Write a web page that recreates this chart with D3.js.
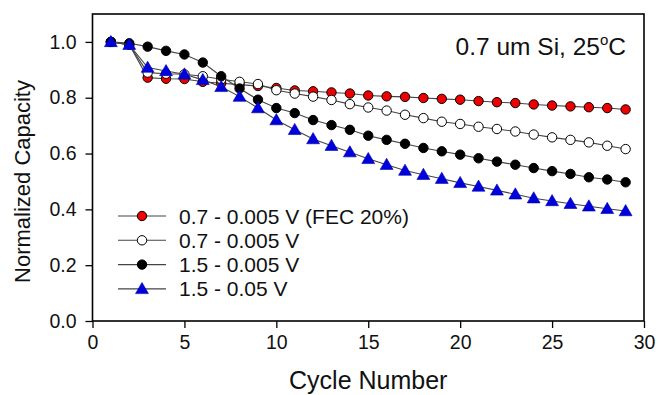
<!DOCTYPE html>
<html>
<head>
<meta charset="utf-8">
<script src="https://cdn.jsdelivr.net/npm/d3@7"></script>
<style>
    body { margin: 0; background: #fff; }
    svg { font-family: "Liberation Sans", Arial, sans-serif; }
</style>
</head>
<body>
<div id="viz-container"></div>
<script>
// data
let cycles = d3.range(1, 30);
let fec20 = [1.0, 0.99, 0.872, 0.868, 0.867, 0.857, 0.852, 0.847, 0.842, 0.835, 0.826, 0.823, 0.819, 0.815, 0.808, 0.805, 0.803, 0.799, 0.796, 0.793, 0.788, 0.784, 0.781, 0.776, 0.772, 0.769, 0.766, 0.763, 0.758];
let v07 = [1.0, 0.99, 0.89, 0.886, 0.884, 0.877, 0.866, 0.857, 0.849, 0.827, 0.815, 0.804, 0.792, 0.777, 0.765, 0.754, 0.739, 0.727, 0.714, 0.706, 0.696, 0.688, 0.679, 0.668, 0.658, 0.649, 0.64, 0.628, 0.616];
let v15 = [1.0, 0.995, 0.983, 0.968, 0.955, 0.926, 0.877, 0.833, 0.793, 0.763, 0.745, 0.72, 0.702, 0.685, 0.664, 0.649, 0.635, 0.62, 0.608, 0.596, 0.583, 0.571, 0.56, 0.548, 0.537, 0.527, 0.515, 0.507, 0.497];
let v15b = [1.0, 0.99, 0.908, 0.896, 0.884, 0.864, 0.839, 0.804, 0.763, 0.72, 0.685, 0.652, 0.628, 0.605, 0.581, 0.56, 0.539, 0.524, 0.51, 0.495, 0.482, 0.468, 0.454, 0.44, 0.43, 0.42, 0.411, 0.402, 0.394];
let seriesNames = ["0.7 - 0.005 V (FEC 20%)", "0.7 - 0.005 V", "1.5 - 0.005 V", "1.5 - 0.05 V"];
let xTicks = [0, 5, 10, 15, 20, 25, 30];
let yTicks = [0.0, 0.2, 0.4, 0.6, 0.8, 1.0];

let series = [
    { name: seriesNames[0], values: fec20, fill: '#ee0000', shape: 'circle' },
    { name: seriesNames[1], values: v07, fill: '#ffffff', shape: 'circle' },
    { name: seriesNames[2], values: v15, fill: '#000000', shape: 'circle' },
    { name: seriesNames[3], values: v15b, fill: '#0000dd', shape: 'triangle' }
];

let w = 658, h = 395;
let plotL = 92.5, plotR = 644, plotT = 14, plotB = 321;

let viz = d3.select("#viz-container")
    .append("svg")
    .attr('width', w)
    .attr('height', h);

let x = d3.scaleLinear().domain([0, 30]).range([plotL, plotR]);
let y = d3.scaleLinear().domain([0, 1.1]).range([plotB, plotT]);

// axes
viz.append('g')
    .attr('transform', `translate(0,${plotB})`)
    .call(d3.axisBottom(x).tickValues(xTicks).tickSize(7).tickPadding(7).tickFormat(d3.format('d')))
    .call(g => g.select('.domain').remove())
    .call(g => g.selectAll('line').attr('stroke', '#000').attr('stroke-width', 1.3))
    .call(g => g.selectAll('text').attr('font-size', '19.5px').attr('fill', '#111').attr('font-family', null));

viz.append('g')
    .attr('transform', `translate(${plotL},0)`)
    .call(d3.axisLeft(y).tickValues(yTicks).tickSize(7).tickPadding(9).tickFormat(d3.format('.1f')))
    .call(g => g.select('.domain').remove())
    .call(g => g.selectAll('line').attr('stroke', '#000').attr('stroke-width', 1.3))
    .call(g => g.selectAll('text').attr('font-size', '19.5px').attr('fill', '#111').attr('font-family', null));

// frame
viz.append('rect')
    .attr('x', plotL)
    .attr('y', plotT)
    .attr('width', plotR - plotL)
    .attr('height', plotB - plotT)
    .attr('fill', 'none')
    .attr('stroke', '#000')
    .attr('stroke-width', 1.6);

// axis titles
viz.append('text')
    .attr('x', (plotL + plotR) / 2)
    .attr('y', 389)
    .attr('text-anchor', 'middle')
    .attr('font-size', '25px')
    .attr('fill', '#111')
    .text('Cycle Number');

viz.append('text')
    .attr('transform', `translate(30,${(plotT + plotB) / 2 + 14}) rotate(-90)`)
    .attr('text-anchor', 'middle')
    .attr('font-size', '22px')
    .attr('fill', '#111')
    .text('Normalized Capacity');

let line = d3.line()
    .x((d, i) => x(cycles[i]))
    .y(d => y(d));

let tri = d3.symbol().type(d3.symbolTriangle).size(72);

function drawMarker(g, s, cx, cy) {
    if (s.shape == 'triangle') {
        g.append('path')
            .attr('d', tri())
            .attr('transform', `translate(${cx},${cy + 1})`)
            .attr('fill', s.fill)
            .attr('stroke', '#0000aa')
            .attr('stroke-width', 0.6);
    } else {
        g.append('circle')
            .attr('cx', cx)
            .attr('cy', cy)
            .attr('r', 4.7)
            .attr('fill', s.fill)
            .attr('stroke', '#000')
            .attr('stroke-width', 1);
    }
}

series.forEach(s => {
    let g = viz.append('g');
    g.append('path')
        .datum(s.values)
        .attr('d', line)
        .attr('fill', 'none')
        .attr('stroke', '#444')
        .attr('stroke-width', 1.1);
    s.values.forEach((v, i) => drawMarker(g, s, x(cycles[i]), y(v)));
});

// legend
let legend = viz.append('g');
series.forEach((s, i) => {
    let ly = 216 + i * 24.3;
    legend.append('line')
        .attr('x1', 118)
        .attr('x2', 166)
        .attr('y1', ly)
        .attr('y2', ly)
        .attr('stroke', '#444')
        .attr('stroke-width', 1.1);
    drawMarker(legend, s, 142, ly);
    legend.append('text')
        .attr('x', 179)
        .attr('y', ly + 7.5)
        .attr('font-size', '21px')
        .attr('fill', '#111')
        .text(s.name);
});

// annotation
let note = viz.append('text')
    .attr('x', 626)
    .attr('y', 55)
    .attr('text-anchor', 'end')
    .attr('font-size', '24.5px')
    .attr('fill', '#111');
note.append('tspan').text('0.7 um Si, 25');
note.append('tspan').attr('dy', -10).attr('font-size', '15px').text('o');
note.append('tspan').attr('dy', 10).text('C');
</script>
</body>
</html>
